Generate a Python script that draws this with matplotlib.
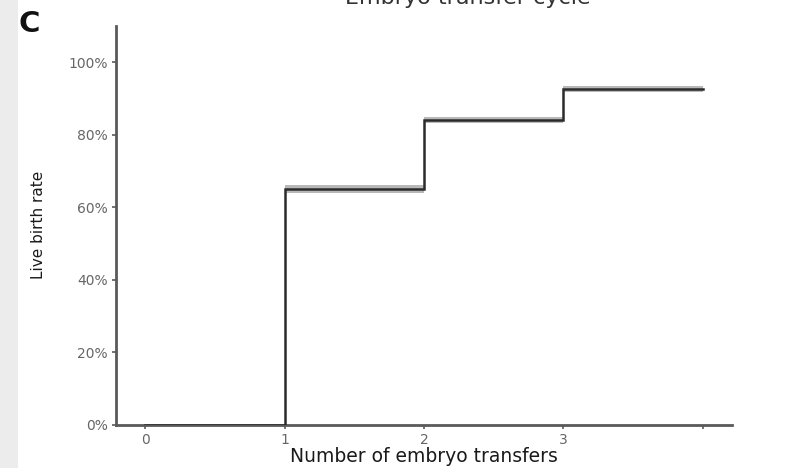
import matplotlib
matplotlib.use("Agg")
import matplotlib.pyplot as plt
from matplotlib.patches import Rectangle
from matplotlib.ticker import FuncFormatter

# Cumulative live birth rate by number of embryo transfers
transfers = [0, 1, 2, 3, 4]
live_birth = [0.0, 0.65, 0.84, 0.925, 0.925]
ci_low = [0.0, 0.638, 0.831, 0.917, 0.917]
ci_high = [0.0, 0.662, 0.849, 0.933, 0.933]

x_ticks = [0, 1, 2, 3, 4]
x_tick_labels = ["0", "1", "2", "3", ""]
y_ticks = [0, 0.2, 0.4, 0.6, 0.8, 1.0]

plt.rcParams["font.family"] = ["DejaVu Sans"]

fig = plt.figure(figsize=(8, 4.68), dpi=100)
fig.patch.set_facecolor("white")

# light grey strip on the left edge of the panel
fig.patches.append(Rectangle((0, 0), 0.022, 1, transform=fig.transFigure,
                             facecolor="#ececec", edgecolor="none", zorder=0))

ax = fig.add_axes([0.145, 0.092, 0.770, 0.853])

ax.fill_between(transfers, ci_low, ci_high, step="post", color="#9a9a9a",
                alpha=0.7, linewidth=0, zorder=2)
ax.step(transfers, live_birth, where="post", color="#2b2b2b", linewidth=1.8,
        zorder=3, solid_joinstyle="miter")

ax.set_xlim(-0.21, 4.21)
ax.set_ylim(0, 1.10)
ax.set_xticks(x_ticks)
ax.set_xticklabels(x_tick_labels)
ax.set_yticks(y_ticks)
ax.yaxis.set_major_formatter(FuncFormatter(lambda v, p: f"{v*100:.0f}%"))

for side in ("top", "right"):
    ax.spines[side].set_visible(False)
for side in ("left", "bottom"):
    ax.spines[side].set_color("#5a5a5a")
    ax.spines[side].set_linewidth(2.0)

ax.tick_params(axis="both", colors="#5a5a5a", length=3, width=1.2,
               labelsize=10, labelcolor="#666666", pad=3)

ax.set_xlabel("Number of embryo transfers", fontsize=13.5, color="#1a1a1a",
              labelpad=0)
ax.set_ylabel("Live birth rate", fontsize=11, color="#1a1a1a", labelpad=16)

fig.text(0.585, 1 - 4 / 468, "Embryo transfer cycle", ha="center",
         va="baseline", fontsize=16, color="#333333")
fig.text(0.023, 0.948, "C", ha="left", va="center", fontsize=21,
         fontweight="bold", color="#111111")

fig.savefig("out.png", dpi=100)
